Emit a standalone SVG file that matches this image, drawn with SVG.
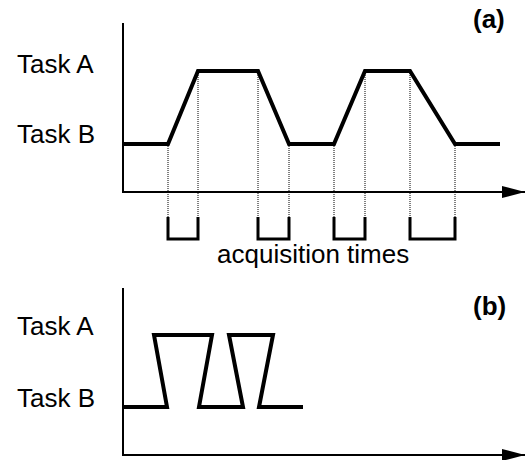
<svg xmlns="http://www.w3.org/2000/svg" width="526" height="460" viewBox="0 0 526 460">
  <style>
    .label { font-family: "Liberation Sans", Arial, sans-serif; font-size: 26px; fill: #000; }
    .tag { font-family: "Liberation Sans", Arial, sans-serif; font-size: 26px; font-weight: bold; fill: #000; }
    .axis { stroke: #000; stroke-width: 2; fill: none; }
    .signal { stroke: #000; stroke-width: 4; fill: none; stroke-linejoin: miter; }
    .guide { stroke: #000; stroke-width: 1; stroke-dasharray: 1 1; fill: none; }
    .window { stroke: #000; stroke-width: 3; fill: none; }
  </style>
  <defs>
    <marker id="arrow" viewBox="0 0 23 12" refX="23" refY="6" markerWidth="23" markerHeight="12" markerUnits="userSpaceOnUse" orient="auto">
      <path d="M0,0 L23,6 L0,12 Z" fill="#000"/>
    </marker>
  </defs>
  <rect width="526" height="460" fill="#fff"/>

  <!-- Panel (a): slow task switching -->
  <g id="panel-a">
    <g id="labels-a">
      <text class="label" x="17" y="73">Task A</text>
      <text class="label" x="17" y="143">Task B</text>
      <text class="tag" x="473" y="28">(a)</text>
    </g>
    <g id="axes-a">
      <path class="axis" d="M123,23 V192 H525" marker-end="url(#arrow)"/>
    </g>
    <g id="signal-a">
      <path class="signal" d="M123,144 H168 L198,71 H258 L289,144 H334 L365,71 H410 L455,144 H500"/>
    </g>
    <g id="guides-a">
      <path class="guide" d="M168,144 V217 M198,71 V217 M258,71 V217 M289,144 V217 M334,144 V217 M365,71 V217 M410,71 V217 M455,144 V217"/>
    </g>
    <g id="acquisition-windows">
      <path class="window" d="M168,217 V239 H198 V217"/>
      <path class="window" d="M258,217 V239 H289 V217"/>
      <path class="window" d="M334,217 V239 H365 V217"/>
      <path class="window" d="M410,217 V239 H455 V217"/>
      <text class="label" x="217" y="263">acquisition times</text>
    </g>
  </g>

  <!-- Panel (b): fast task switching -->
  <g id="panel-b">
    <g id="labels-b">
      <text class="label" x="17" y="335">Task A</text>
      <text class="label" x="17" y="407">Task B</text>
      <text class="tag" x="473" y="315">(b)</text>
    </g>
    <g id="axes-b">
      <path class="axis" d="M123,288 V455 H525" marker-end="url(#arrow)"/>
    </g>
    <g id="signal-b">
      <path class="signal" d="M123,407 H167 L154,335 H212 L199,407 H243 L229,335 H273 L259,407 H303"/>
    </g>
  </g>
</svg>
